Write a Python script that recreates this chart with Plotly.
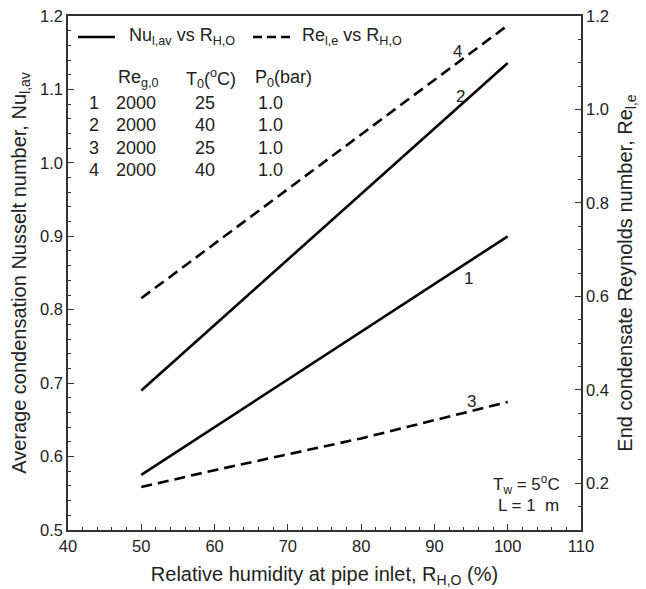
import plotly.graph_objects as go

# ---- data ----
rh = [50, 60, 70, 80, 90, 100]
nu_1 = [0.575, 0.640, 0.705, 0.770, 0.835, 0.900]   # curve 1 (left axis)
nu_2 = [0.690, 0.779, 0.868, 0.958, 1.047, 1.136]   # curve 2 (left axis)
re_3 = [0.192, 0.228, 0.262, 0.296, 0.335, 0.374]   # curve 3 (right axis)
re_4 = [0.596, 0.713, 0.830, 0.946, 1.063, 1.180]   # curve 4 (right axis)

curve_labels = ["1", "2", "3", "4"]
label_x = [94.6, 93.6, 95.1, 93.1]
label_y = [0.843, 1.090, 0.675, 1.151]

table_header = ["Re<sub>g,0</sub>", "T<sub>0</sub>(<sup>o</sup>C)", "P<sub>0</sub>(bar)"]
table_ids = ["1", "2", "3", "4"]
table_re = ["2000", "2000", "2000", "2000"]
table_t = ["25", "40", "25", "40"]
table_p = ["1.0", "1.0", "1.0", "1.0"]

FONT = "Liberation Sans, Arial, sans-serif"
TXT = "#222222"
AX = "#333333"

fig = go.Figure()
solid = dict(color="black", width=2.6)
dashed = dict(color="black", width=2.6, dash="11px,6px")
fig.add_trace(go.Scatter(x=rh, y=nu_1, mode="lines", line=solid, showlegend=False))
fig.add_trace(go.Scatter(x=rh, y=nu_2, mode="lines", line=solid, showlegend=False))
fig.add_trace(go.Scatter(x=rh, y=re_3, mode="lines", yaxis="y2", line=dashed, showlegend=False))
fig.add_trace(go.Scatter(x=rh, y=re_4, mode="lines", yaxis="y2", line=dashed, showlegend=False))


def px_x(p):
    return (p - 68) / (581 - 68)


def px_y(p):
    return (530 - p) / (530 - 16)


def txt(size):
    return dict(size=size, color=TXT, family=FONT)


ann = []
for t, x, y in zip(curve_labels, label_x, label_y):
    ann.append(dict(x=x, y=y, xref="x", yref="y", text=t, showarrow=False,
                    xanchor="center", yanchor="middle", font=txt(17)))

ann.append(dict(x=px_x(127), y=px_y(37), xref="paper", yref="paper", xanchor="left",
                yanchor="middle", text="Nu<sub>l,av</sub> vs R<sub>H,O</sub>",
                showarrow=False, font=txt(18)))
ann.append(dict(x=px_x(300), y=px_y(37), xref="paper", yref="paper", xanchor="left",
                yanchor="middle", text="Re<sub>l,e</sub> vs R<sub>H,O</sub>",
                showarrow=False, font=txt(18)))

col_x = [138, 211, 283]
for h, cx in zip(table_header, col_x):
    ann.append(dict(x=px_x(cx), y=px_y(78), xref="paper", yref="paper", xanchor="center",
                    yanchor="middle", text=h, showarrow=False, font=txt(18)))
row_y = [103, 125, 148, 170]
for i in range(4):
    ry = px_y(row_y[i])
    for t, cx in zip([table_ids[i], table_re[i], table_t[i], table_p[i]], [94, 136, 205, 270]):
        ann.append(dict(x=px_x(cx), y=ry, xref="paper", yref="paper", text=t,
                        xanchor="center", yanchor="middle", showarrow=False, font=txt(18)))

ann.append(dict(x=px_x(562), y=px_y(484), xref="paper", yref="paper", xanchor="right",
                yanchor="middle", text="T<sub>w</sub> = 5<sup>o</sup>C", showarrow=False,
                font=txt(17)))
ann.append(dict(x=px_x(561), y=px_y(505), xref="paper", yref="paper", xanchor="right",
                yanchor="middle", text="L = 1  m", showarrow=False, font=txt(17)))

shapes = [
    dict(type="line", xref="paper", yref="paper", x0=px_x(78), x1=px_x(115),
         y0=px_y(37), y1=px_y(37), line=dict(color="black", width=2.6)),
    dict(type="line", xref="paper", yref="paper", x0=px_x(253), x1=px_x(291),
         y0=px_y(37), y1=px_y(37), line=dict(color="black", width=2.6, dash="9px,5px")),
]

axis_common = dict(showline=True, linecolor=AX, linewidth=1.5, ticks="inside",
                   ticklen=6, tickcolor=AX, showgrid=False, zeroline=False,
                   automargin=False, tickfont=txt(16.5))

fig.update_layout(
    template="none",
    width=646, height=589,
    margin=dict(l=68, r=65, t=16, b=59),
    plot_bgcolor="white", paper_bgcolor="white",
    font=dict(family=FONT, color=TXT),
    xaxis=dict(range=[40, 110], tick0=40, dtick=10, mirror=True,
               minor=dict(dtick=2, ticks="inside", ticklen=3, tickcolor=AX),
               title=dict(text="Relative humidity at pipe inlet, R<sub>H,O</sub> (%)",
                          font=txt(20), standoff=13),
               **axis_common),
    yaxis=dict(range=[0.5, 1.2], dtick=0.1, tickformat=".1f",
               minor=dict(dtick=0.02, ticks="inside", ticklen=3, tickcolor=AX),
               title=dict(text="Average condensation Nusselt number, Nu<sub>l,av</sub>",
                          font=txt(20), standoff=8),
               **axis_common),
    yaxis2=dict(range=[0.1, 1.2], tick0=0.2, dtick=0.2, tickformat=".1f", overlaying="y",
                side="right",
                minor=dict(dtick=0.05, ticks="inside", ticklen=3, tickcolor=AX),
                title=dict(text="End condensate Reynolds number, Re<sub>l,e</sub>",
                           font=txt(20), standoff=10),
                **axis_common),
    annotations=ann,
    shapes=shapes,
    showlegend=False,
)

fig.write_html("out.html")
